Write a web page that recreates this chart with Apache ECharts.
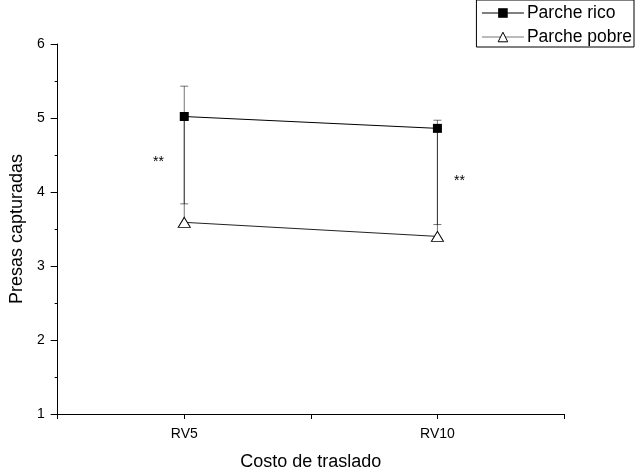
<!DOCTYPE html>
<html>
<head>
<meta charset="utf-8">
<script src="https://cdn.jsdelivr.net/npm/echarts@6/dist/echarts.min.js"></script>
<style>
  html, body { margin: 0; padding: 0; background: #fff; }
  #chart { width: 635px; height: 476px; }
</style>
</head>
<body>
<div id="chart"></div>
<script>
// Travel cost treatments
var categories = ['RV5', 'RV10'];

// Rich patch: mean prey captured and error bar limits
var ricoMean = [5.02, 4.86];
var ricoErrHigh = [5.43, 4.97];
var ricoErrLow = [3.84, 3.56];

// Poor patch: mean prey captured and upper error bar limit
var pobreMean = [3.59, 3.40];
var pobreErrHigh = [5.02, 4.86];

// Y axis range and ticks
var yMin = 1, yMax = 6, yStep = 1;

var FONT = 'Liberation Sans, Arial, sans-serif';

function errorBarData(mean, low, high) {
  return categories.map(function (c, i) { return [i, mean[i], low[i], high[i]]; });
}

function renderErrorBar(params, api) {
  var x = api.value(0);
  var mean = api.value(1), low = api.value(2), high = api.value(3);
  var pLow = api.coord([x, low]);
  var pHigh = api.coord([x, high]);
  var half = 4;
  var stroke = { stroke: 'rgba(0,0,0,0.55)', lineWidth: 1 };
  var children = [{
    type: 'line',
    shape: { x1: pLow[0], y1: pLow[1], x2: pHigh[0], y2: pHigh[1] },
    style: stroke
  }];
  if (high !== mean) {
    children.push({ type: 'line', shape: { x1: pHigh[0] - half, y1: pHigh[1], x2: pHigh[0] + half, y2: pHigh[1] }, style: stroke });
  }
  if (low !== mean) {
    children.push({ type: 'line', shape: { x1: pLow[0] - half, y1: pLow[1], x2: pLow[0] + half, y2: pLow[1] }, style: stroke });
  }
  return { type: 'group', children: children };
}

var chart = echarts.init(document.getElementById('chart'), null, { renderer: 'canvas' });

var option = {
  backgroundColor: '#fff',
  animation: false,
  grid: { left: 57, right: 71, top: 44, bottom: 59 },
  legend: {
    right: 1,
    top: 0,
    orient: 'vertical',
    align: 'left',
    borderColor: '#000',
    borderWidth: 1,
    borderRadius: 0,
    padding: [4, 2, 1, 5],
    itemGap: 6,
    itemWidth: 42,
    itemHeight: 12,
    textStyle: { fontFamily: FONT, fontSize: 17.5, color: '#000', padding: [0, 0, 0, -2] },
    data: [
      { name: 'Parche rico', lineStyle: { color: '#000', width: 1 } },
      {
        name: 'Parche pobre',
        lineStyle: { color: '#777', width: 1 },
        itemStyle: { color: '#fff', borderColor: '#000', borderWidth: 1 }
      }
    ]
  },
  xAxis: [{
    type: 'category',
    data: categories,
    boundaryGap: true,
    axisLine: { lineStyle: { color: '#000', width: 1 } },
    axisTick: { show: true, inside: false, length: 5, lineStyle: { color: '#000' } },
    axisLabel: { show: true, color: '#000', fontFamily: FONT, fontSize: 14, margin: 13 },
    name: 'Costo de traslado',
    nameLocation: 'middle',
    nameGap: 39,
    nameTextStyle: { fontFamily: FONT, fontSize: 18, color: '#000' },
    splitLine: { show: false }
  }, {
    type: 'category',
    data: categories,
    boundaryGap: true,
    position: 'bottom',
    axisLine: { show: false },
    axisTick: { show: true, alignWithLabel: true, length: 5, lineStyle: { color: '#000' } },
    axisLabel: { show: false },
    splitLine: { show: false }
  }],
  yAxis: {
    type: 'value',
    min: yMin,
    max: yMax,
    interval: yStep,
    axisLine: { show: true, lineStyle: { color: '#000', width: 1 } },
    axisTick: { show: true, length: 7, lineStyle: { color: '#000' } },
    minorTick: { show: true, splitNumber: 2, length: 3, lineStyle: { color: '#000' } },
    axisLabel: { color: '#000', fontFamily: FONT, fontSize: 14, margin: 13 },
    splitLine: { show: false },
    name: 'Presas capturadas',
    nameLocation: 'middle',
    nameGap: 28,
    nameTextStyle: { fontFamily: FONT, fontSize: 18, color: '#000' }
  },
  series: [
    {
      type: 'custom',
      name: 'rico-err',
      renderItem: renderErrorBar,
      data: errorBarData(ricoMean, ricoErrLow, ricoErrHigh),
      z: 1,
      silent: true
    },
    {
      type: 'custom',
      name: 'pobre-err',
      renderItem: renderErrorBar,
      data: errorBarData(pobreMean, pobreMean, pobreErrHigh),
      z: 1,
      silent: true
    },
    {
      name: 'Parche rico',
      type: 'line',
      data: ricoMean,
      symbol: 'rect',
      symbolSize: 9,
      itemStyle: { color: '#000', borderColor: '#000', borderWidth: 0 },
      lineStyle: { color: '#000', width: 1 },
      z: 3
    },
    {
      name: 'Parche pobre',
      type: 'line',
      data: pobreMean,
      symbol: 'triangle',
      symbolSize: [12, 10],
      itemStyle: { color: '#fff', borderColor: '#000', borderWidth: 1 },
      lineStyle: { color: '#222', width: 1 },
      z: 3
    }
  ],
  graphic: [
    { type: 'text', left: 153, top: 155, style: { text: '**', font: '14px ' + FONT, fill: '#000' } },
    { type: 'text', left: 454, top: 174, style: { text: '**', font: '14px ' + FONT, fill: '#000' } }
  ]
};

chart.setOption(option);
</script>
</body>
</html>
